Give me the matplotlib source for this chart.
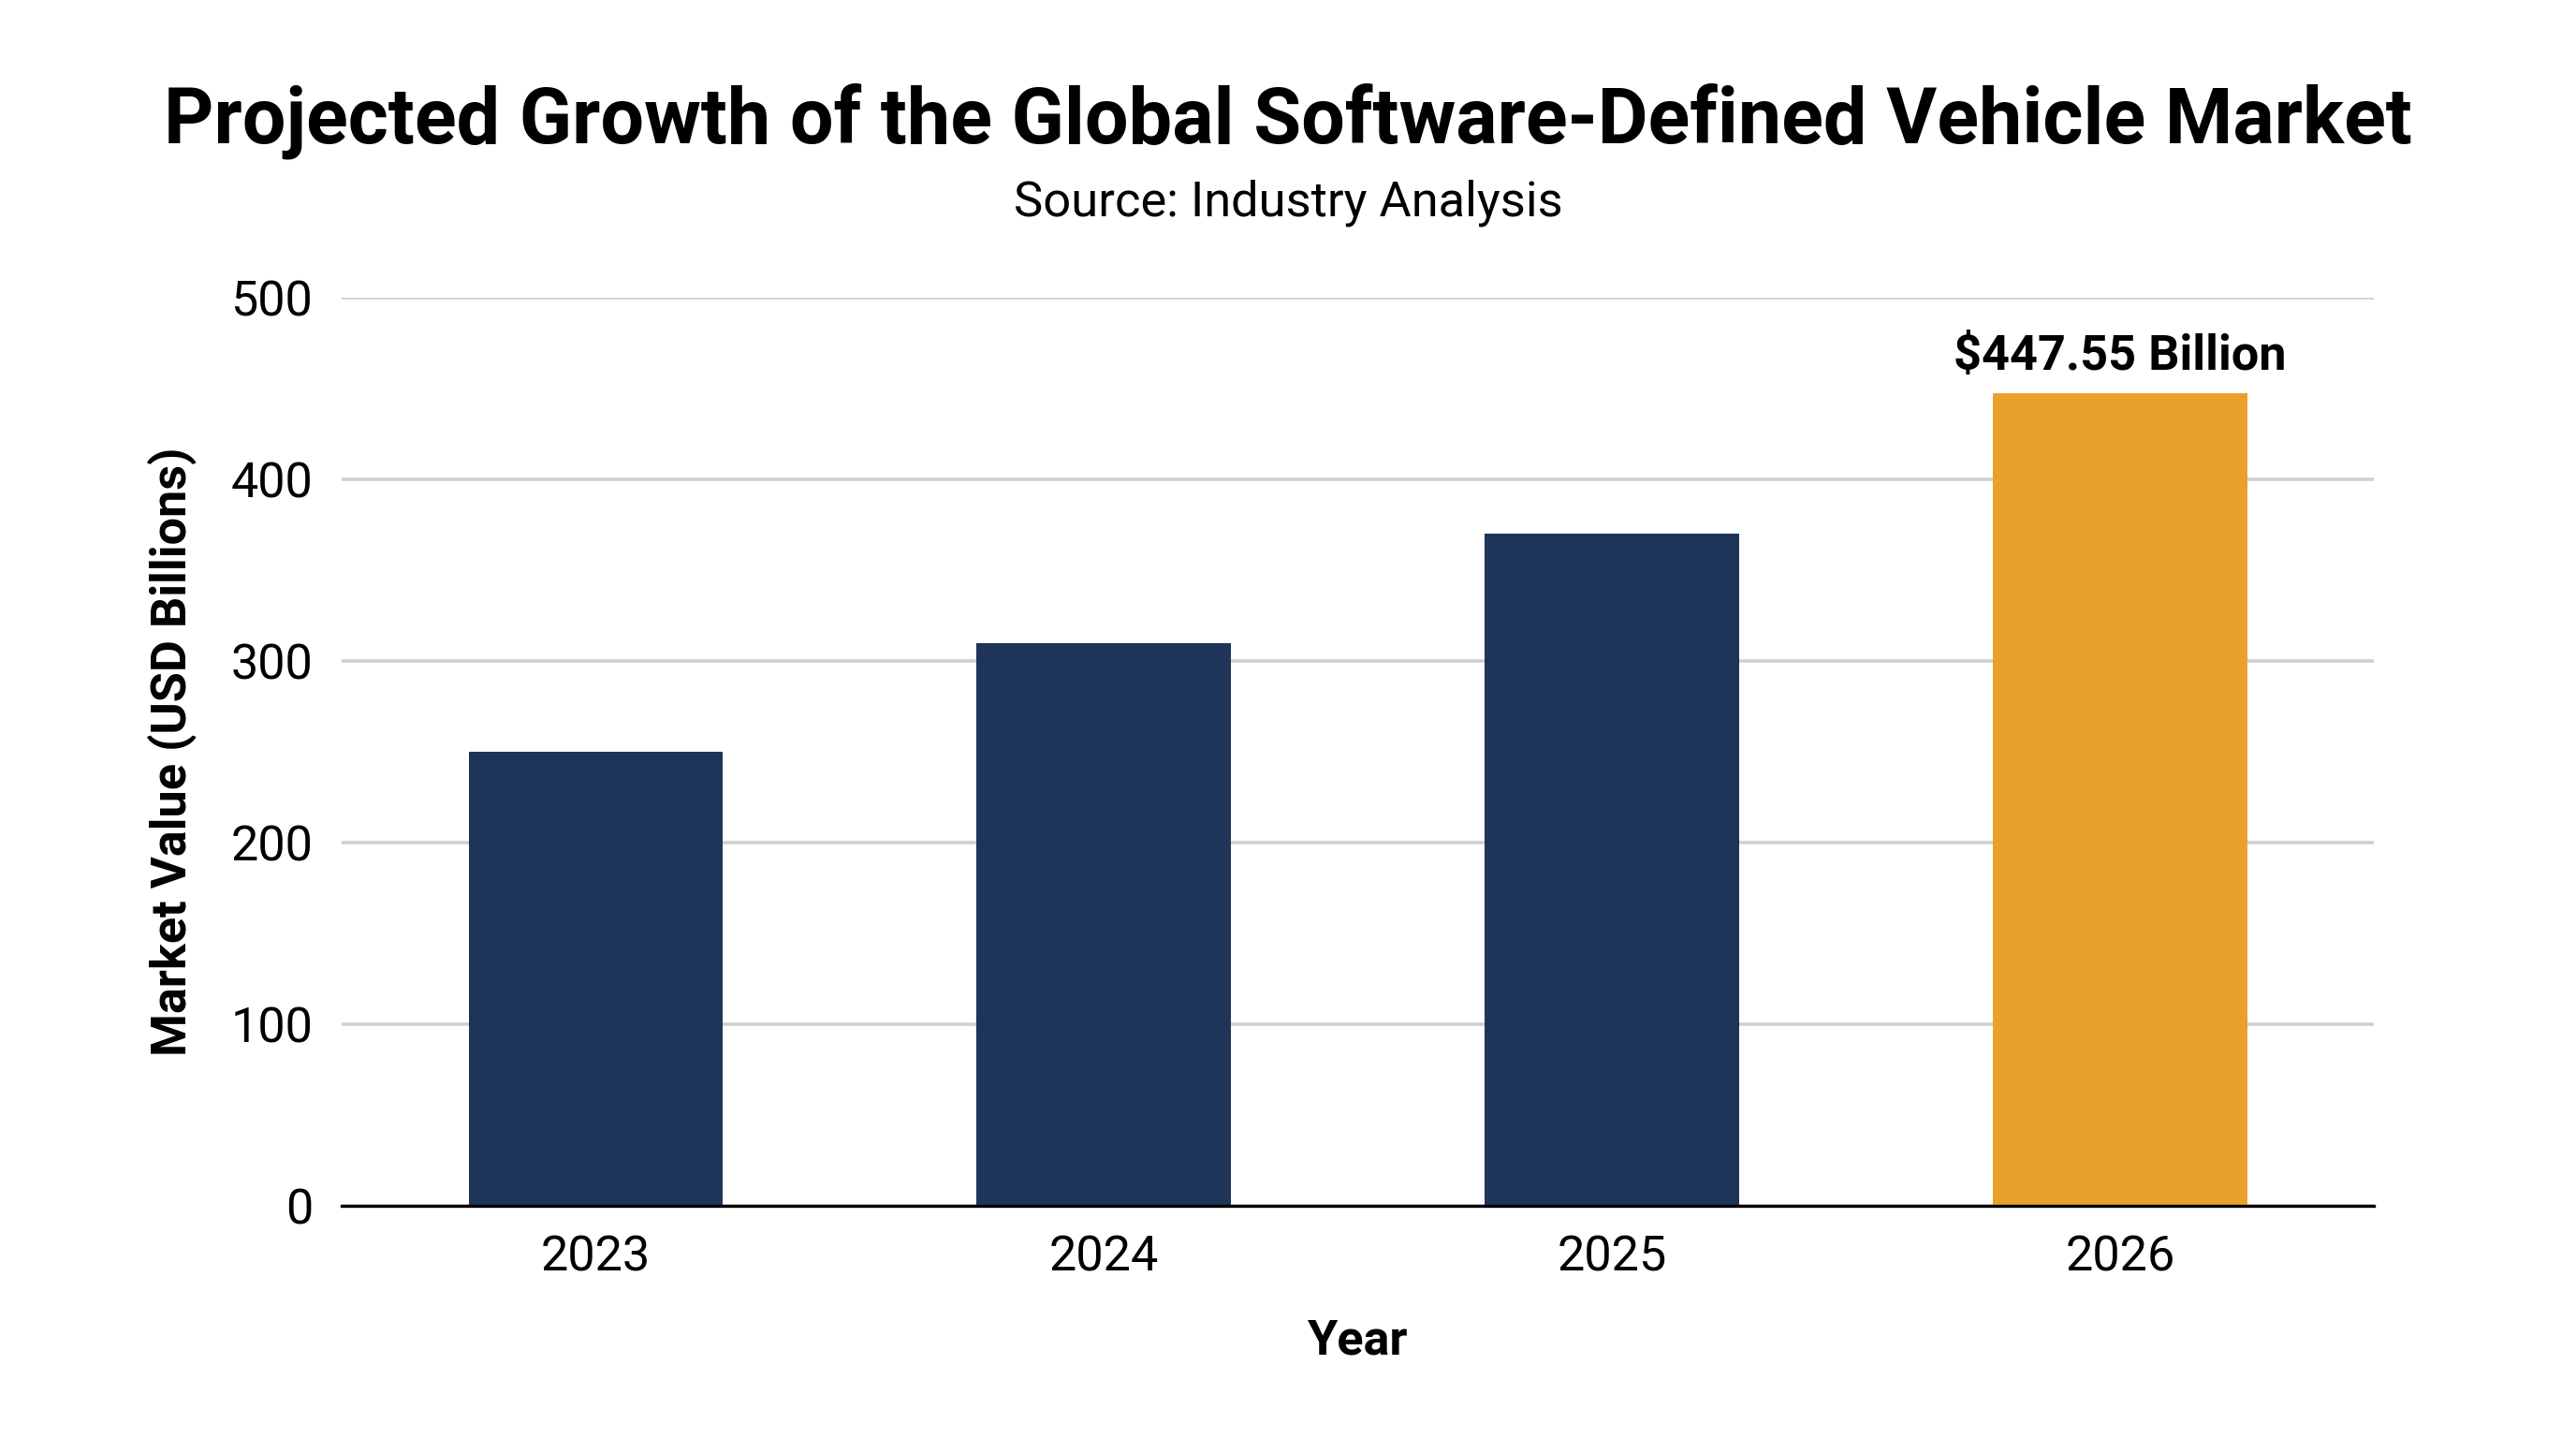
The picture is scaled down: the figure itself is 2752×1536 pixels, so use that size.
import matplotlib.pyplot as plt

years = ['2023', '2024', '2025', '2026']
values = [250, 310, 370, 447.55]
colors = ['#1f3459', '#1f3459', '#1f3459', '#e9a12b']
yticks = [0, 100, 200, 300, 400, 500]

plt.rcParams['font.family'] = ['Roboto', 'DejaVu Sans']

fig = plt.figure(figsize=(13.76, 7.68), dpi=200)
ax = fig.add_axes([0.1326, 0.1615, 0.789, 0.6315])

x = range(len(years))
ax.bar(x, values, width=0.5, color=colors, zorder=3)

ax.set_xlim(-0.5, 3.5)
ax.set_ylim(0, 500)
ax.set_xticks(list(x))
ax.set_xticklabels(years)
ax.set_yticks(yticks)
ax.tick_params(axis='both', length=0, labelsize=18.8, pad=11)
ax.grid(axis='y', color='#d0d0d0', linewidth=1.3, zorder=0)

for s in ['top', 'right', 'left']:
    ax.spines[s].set_visible(False)
ax.spines['bottom'].set_color('black')
ax.spines['bottom'].set_linewidth(1.2)
ax.spines['bottom'].set_zorder(4)

ax.set_ylabel('Market Value (USD Billions)', fontsize=18.8, fontweight='bold', labelpad=13)
ax.set_xlabel('Year', fontsize=18.8, fontweight='bold', labelpad=14)

ax.text(3, values[3] + 7, '$%.2f Billion' % values[3], ha='center', va='bottom',
        fontsize=18.8, fontweight='bold', clip_on=False)

fig.text(0.5, 0.916, 'Projected Growth of the Global Software-Defined Vehicle Market',
         ha='center', va='center', fontsize=29.8, fontweight='bold')
fig.text(0.5, 0.859, 'Source: Industry Analysis', ha='center', va='center', fontsize=18.9)

fig.savefig('out.png', dpi=200, facecolor='white')
